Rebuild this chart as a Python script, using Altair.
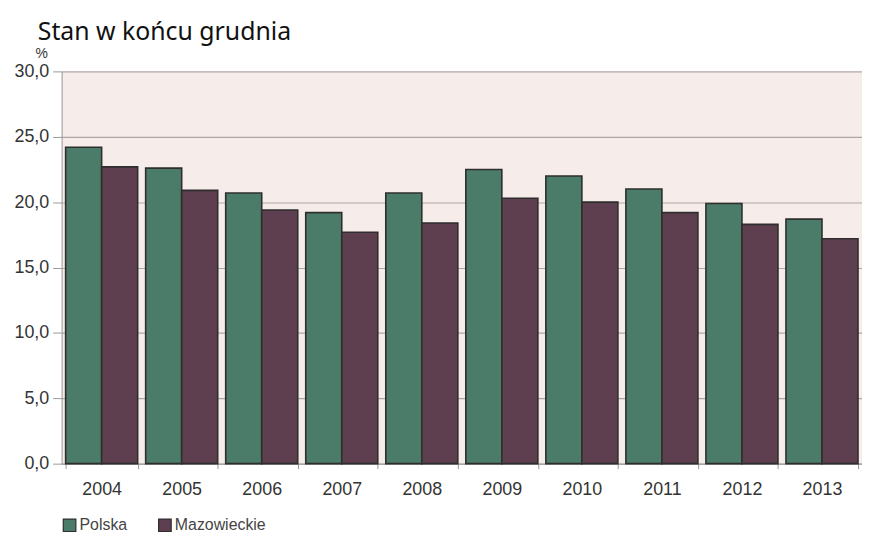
import altair as alt
import pandas as pd

years = ["2004", "2005", "2006", "2007", "2008", "2009", "2010", "2011", "2012", "2013"]
polska = [24.2, 22.6, 20.7, 19.2, 20.7, 22.5, 22.0, 21.0, 19.9, 18.7]
mazowieckie = [22.7, 20.9, 19.4, 17.7, 18.4, 20.3, 20.0, 19.2, 18.3, 17.2]
series = ["Polska", "Mazowieckie"]
colors = ["#4b7c69", "#5e3f4f"]

rows = []
for i, y in enumerate(years):
    rows.append({"rok": y, "seria": series[0], "wartosc": polska[i]})
    rows.append({"rok": y, "seria": series[1], "wartosc": mazowieckie[i]})
df = pd.DataFrame(rows)

font = "Liberation Sans"

bars = alt.Chart(df).mark_bar(stroke="#2e2e2e", strokeWidth=1.6).encode(
    x=alt.X("rok:N", title=None,
            scale=alt.Scale(paddingInner=0.1, paddingOuter=0.05),
            axis=alt.Axis(labelAngle=0, labelFontSize=18, labelColor="#333333", labelFont=font,
                          labelPadding=12, tickSize=5, tickColor="#9a9a9a", tickBand="extent",
                          domainColor="#9a9a9a", grid=False)),
    xOffset=alt.XOffset("seria:N", sort=series),
    y=alt.Y("wartosc:Q", title=None,
            scale=alt.Scale(domain=[0, 30]),
            axis=alt.Axis(values=[0, 5, 10, 15, 20, 25, 30],
                          labelExpr="replace(format(datum.value, '.1f'), '.', ',')",
                          labelFontSize=18, labelColor="#333333", labelFont=font,
                          labelPadding=4, tickSize=9, tickColor="#9a9a9a",
                          domainColor="#9a9a9a", gridColor="#b0a8a6", gridWidth=1.2)),
    color=alt.Color("seria:N", sort=series,
                    scale=alt.Scale(domain=series, range=colors),
                    legend=alt.Legend(title=None, orient="none", legendX=0, legendY=449,
                                      direction="horizontal", symbolType="square",
                                      symbolSize=160, symbolStrokeColor="#2e2e2e",
                                      symbolStrokeWidth=1.2, labelFontSize=16,
                                      labelColor="#444444", labelFont=font,
                                      columnPadding=28, labelOffset=2)),
)

title_df = pd.DataFrame({"t": ["Stan w końcu grudnia"]})
title = alt.Chart(title_df).mark_text(
    align="left", baseline="alphabetic", fontSize=25, font="Noto Sans", color="#111111"
).encode(x=alt.value(-24), y=alt.value(-32), text="t:N")

pct_df = pd.DataFrame({"t": ["%"]})
pct = alt.Chart(pct_df).mark_text(
    align="center", baseline="alphabetic", fontSize=14, font=font, color="#333333"
).encode(x=alt.value(-20), y=alt.value(-13), text="t:N")

chart = alt.layer(bars, title, pct).properties(
    width=806, height=395,
    autosize=alt.AutoSizeParams(type="none"),
    padding={"left": 54, "top": 62, "right": 0, "bottom": 67},
    background="white",
).configure_view(fill="#f6eceA", stroke=None)

chart.save("out.html", embed_options={"renderer": "svg", "actions": False})
